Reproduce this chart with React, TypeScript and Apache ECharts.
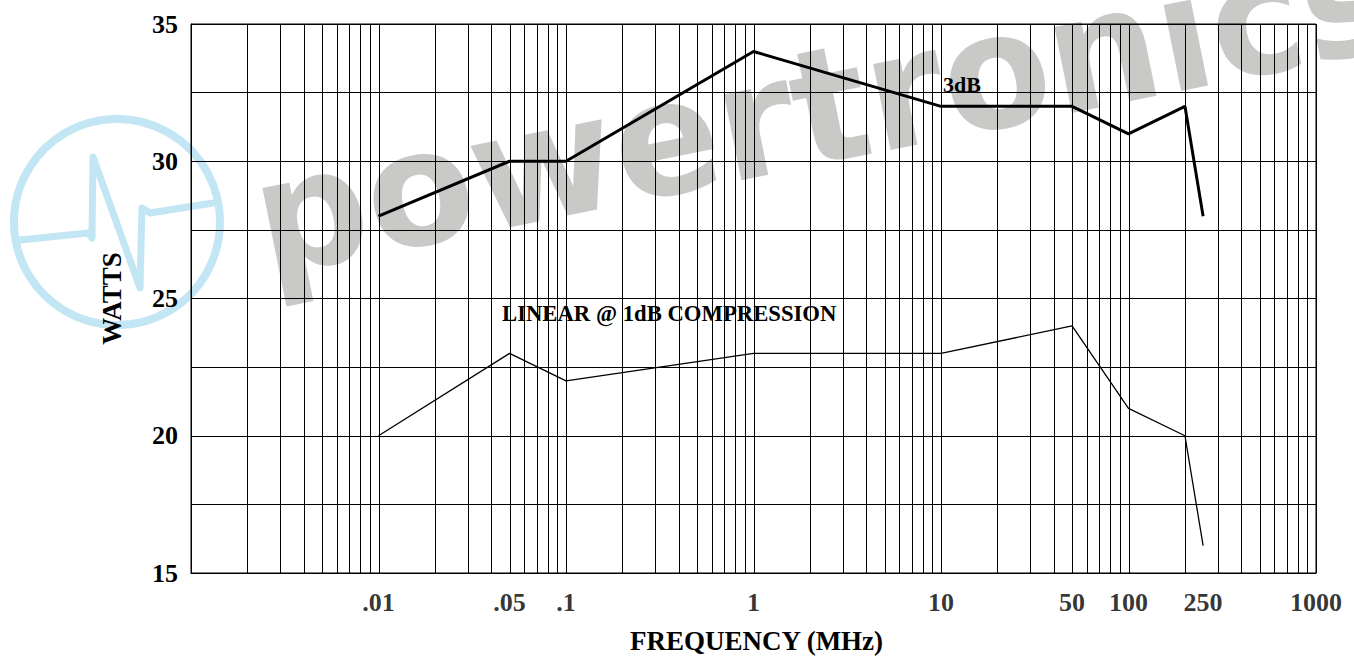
import React, { useEffect, useRef } from 'react';
import * as echarts from 'echarts';

// ---- data ----
const tickValues = [0.01, 0.05, 0.1, 1, 10, 50, 100, 250, 1000];
const tickLabels = ['.01', '.05', '.1', '1', '10', '50', '100', '250', '1000'];
const freqs = [0.01, 0.05, 0.1, 1, 10, 50, 100, 200, 250];
const watts3dB = [28, 30, 30, 34, 32, 32, 31, 32, 28];
const wattsLinear = [20, 23, 22, 23, 23, 24, 21, 20, 16];
const decades = [0.001, 0.01, 0.1, 1, 10, 100];
const multipliers = [1, 2, 3, 4, 5, 6, 7, 8, 9];
const freqRange = [0.001, 1000];
const wattsRange = [15, 35];

const SERIF = '"Liberation Serif", "Times New Roman", serif';

export default function App() {
  const ref = useRef<HTMLDivElement>(null);

  useEffect(() => {
    if (!ref.current) return;
    const chart = echarts.init(ref.current, null, { renderer: 'svg' });

    const gridValues: number[] = [];
    decades.forEach((d) => multipliers.forEach((m) => gridValues.push(m * d)));
    gridValues.push(freqRange[1]);

    const heartbeat = [
      [20, 240], [88, 233], [92, 238], [93, 157], [140, 288], [142, 208], [150, 213], [213, 203],
    ];

    chart.setOption({
      animation: false,
      grid: { left: 191, right: 38, top: 24, bottom: 85, containLabel: false, show: true, borderColor: '#000', borderWidth: 1 },
      xAxis: {
        type: 'log',
        logBase: 10,
        min: freqRange[0],
        max: freqRange[1],
        axisLine: { show: true, lineStyle: { color: '#000', width: 1 } },
        axisTick: { show: false },
        axisLabel: { show: false },
        splitLine: { show: false },
        name: 'FREQUENCY (MHz)',
        nameLocation: 'middle',
        nameGap: 54,
        nameTextStyle: { fontSize: 27, fontWeight: 'bold', fontFamily: SERIF, color: '#000', padding: [0, 0, 0, 6] },
      },
      yAxis: {
        type: 'value',
        min: wattsRange[0],
        max: wattsRange[1],
        interval: 2.5,
        axisLine: { show: true, lineStyle: { color: '#000', width: 1 } },
        axisTick: { show: false },
        axisLabel: {
          formatter: (v: number) => (v % 5 === 0 ? String(v) : ''),
          fontSize: 26,
          fontWeight: 'bold',
          fontFamily: SERIF,
          color: '#000',
          margin: 13,
        },
        splitLine: { show: true, lineStyle: { color: '#000', width: 1 } },
        name: 'WATTS',
        nameLocation: 'middle',
        nameGap: 66,
        nameRotate: 90,
        nameTextStyle: { fontSize: 27, fontWeight: 'bold', fontFamily: SERIF, color: '#000' },
      },
      graphic: {
        elements: [
          {
            type: 'circle',
            z: -10,
            silent: true,
            shape: { cx: 117, cy: 222, r: 103 },
            style: { fill: 'none', stroke: '#c3e6f4', lineWidth: 8 },
          },
          {
            type: 'polyline',
            z: -10,
            silent: true,
            shape: { points: heartbeat },
            style: { fill: 'none', stroke: '#c3e6f4', lineWidth: 7, lineJoin: 'round', lineCap: 'round' },
          },
          {
            type: 'text',
            z: -10,
            silent: true,
            x: 256,
            y: 222,
            rotation: 0.2,
            scaleX: 0.98,
            style: {
              text: 'powertronics',
              font: 'bold 160px "DejaVu Sans"',
              fill: '#c9c9c7',
              align: 'left',
              verticalAlign: 'middle',
            },
          },
          {
            type: 'text',
            z: 100,
            x: 943,
            y: 84,
            style: { text: '3dB', font: `bold 22px ${SERIF}`, fill: '#000', align: 'left', verticalAlign: 'middle' },
          },
          {
            type: 'text',
            z: 100,
            x: 502,
            y: 313,
            style: {
              text: 'LINEAR @ 1dB COMPRESSION',
              font: `bold 22.7px ${SERIF}`,
              fill: '#000',
              align: 'left',
              verticalAlign: 'middle',
            },
          },
        ],
      },
      series: [
        {
          name: 'vertical grid',
          type: 'custom',
          silent: true,
          clip: false,
          data: gridValues.map((v) => [v, wattsRange[0]]),
          encode: { x: 0, y: 1 },
          renderItem: (params: any, api: any) => {
            const v = api.value(0);
            const p1 = api.coord([v, wattsRange[0]]);
            const p2 = api.coord([v, wattsRange[1]]);
            const x = Math.round(p1[0]) + 0.5;
            return {
              type: 'line',
              shape: { x1: x, y1: p1[1], x2: x, y2: p2[1] },
              style: { stroke: '#000', lineWidth: 1 },
            };
          },
          z: 1,
        },
        {
          name: '3dB',
          type: 'line',
          data: freqs.map((f, i) => [f, watts3dB[i]]),
          symbol: 'none',
          lineStyle: { color: '#000', width: 3 },
          z: 5,
        },
        {
          name: 'LINEAR @ 1dB COMPRESSION',
          type: 'line',
          data: freqs.map((f, i) => [f, wattsLinear[i]]),
          symbol: 'none',
          lineStyle: { color: '#000', width: 1.3 },
          z: 5,
        },
        {
          name: 'ticks',
          type: 'scatter',
          data: tickValues.map((v) => [v, wattsRange[0]]),
          symbolSize: 1,
          itemStyle: { color: 'rgba(0,0,0,0)' },
          clip: false,
          silent: true,
          label: {
            show: true,
            position: 'bottom',
            distance: 16,
            formatter: (p: any) => tickLabels[p.dataIndex],
            fontSize: 26,
            fontWeight: 'bold',
            fontFamily: SERIF,
            color: '#000',
          },
          z: 3,
        },
      ],
    });

    return () => chart.dispose();
  }, []);

  return <div ref={ref} style={{ position: 'absolute', left: 0, top: 0, width: 1354, height: 659 }} />;
}
